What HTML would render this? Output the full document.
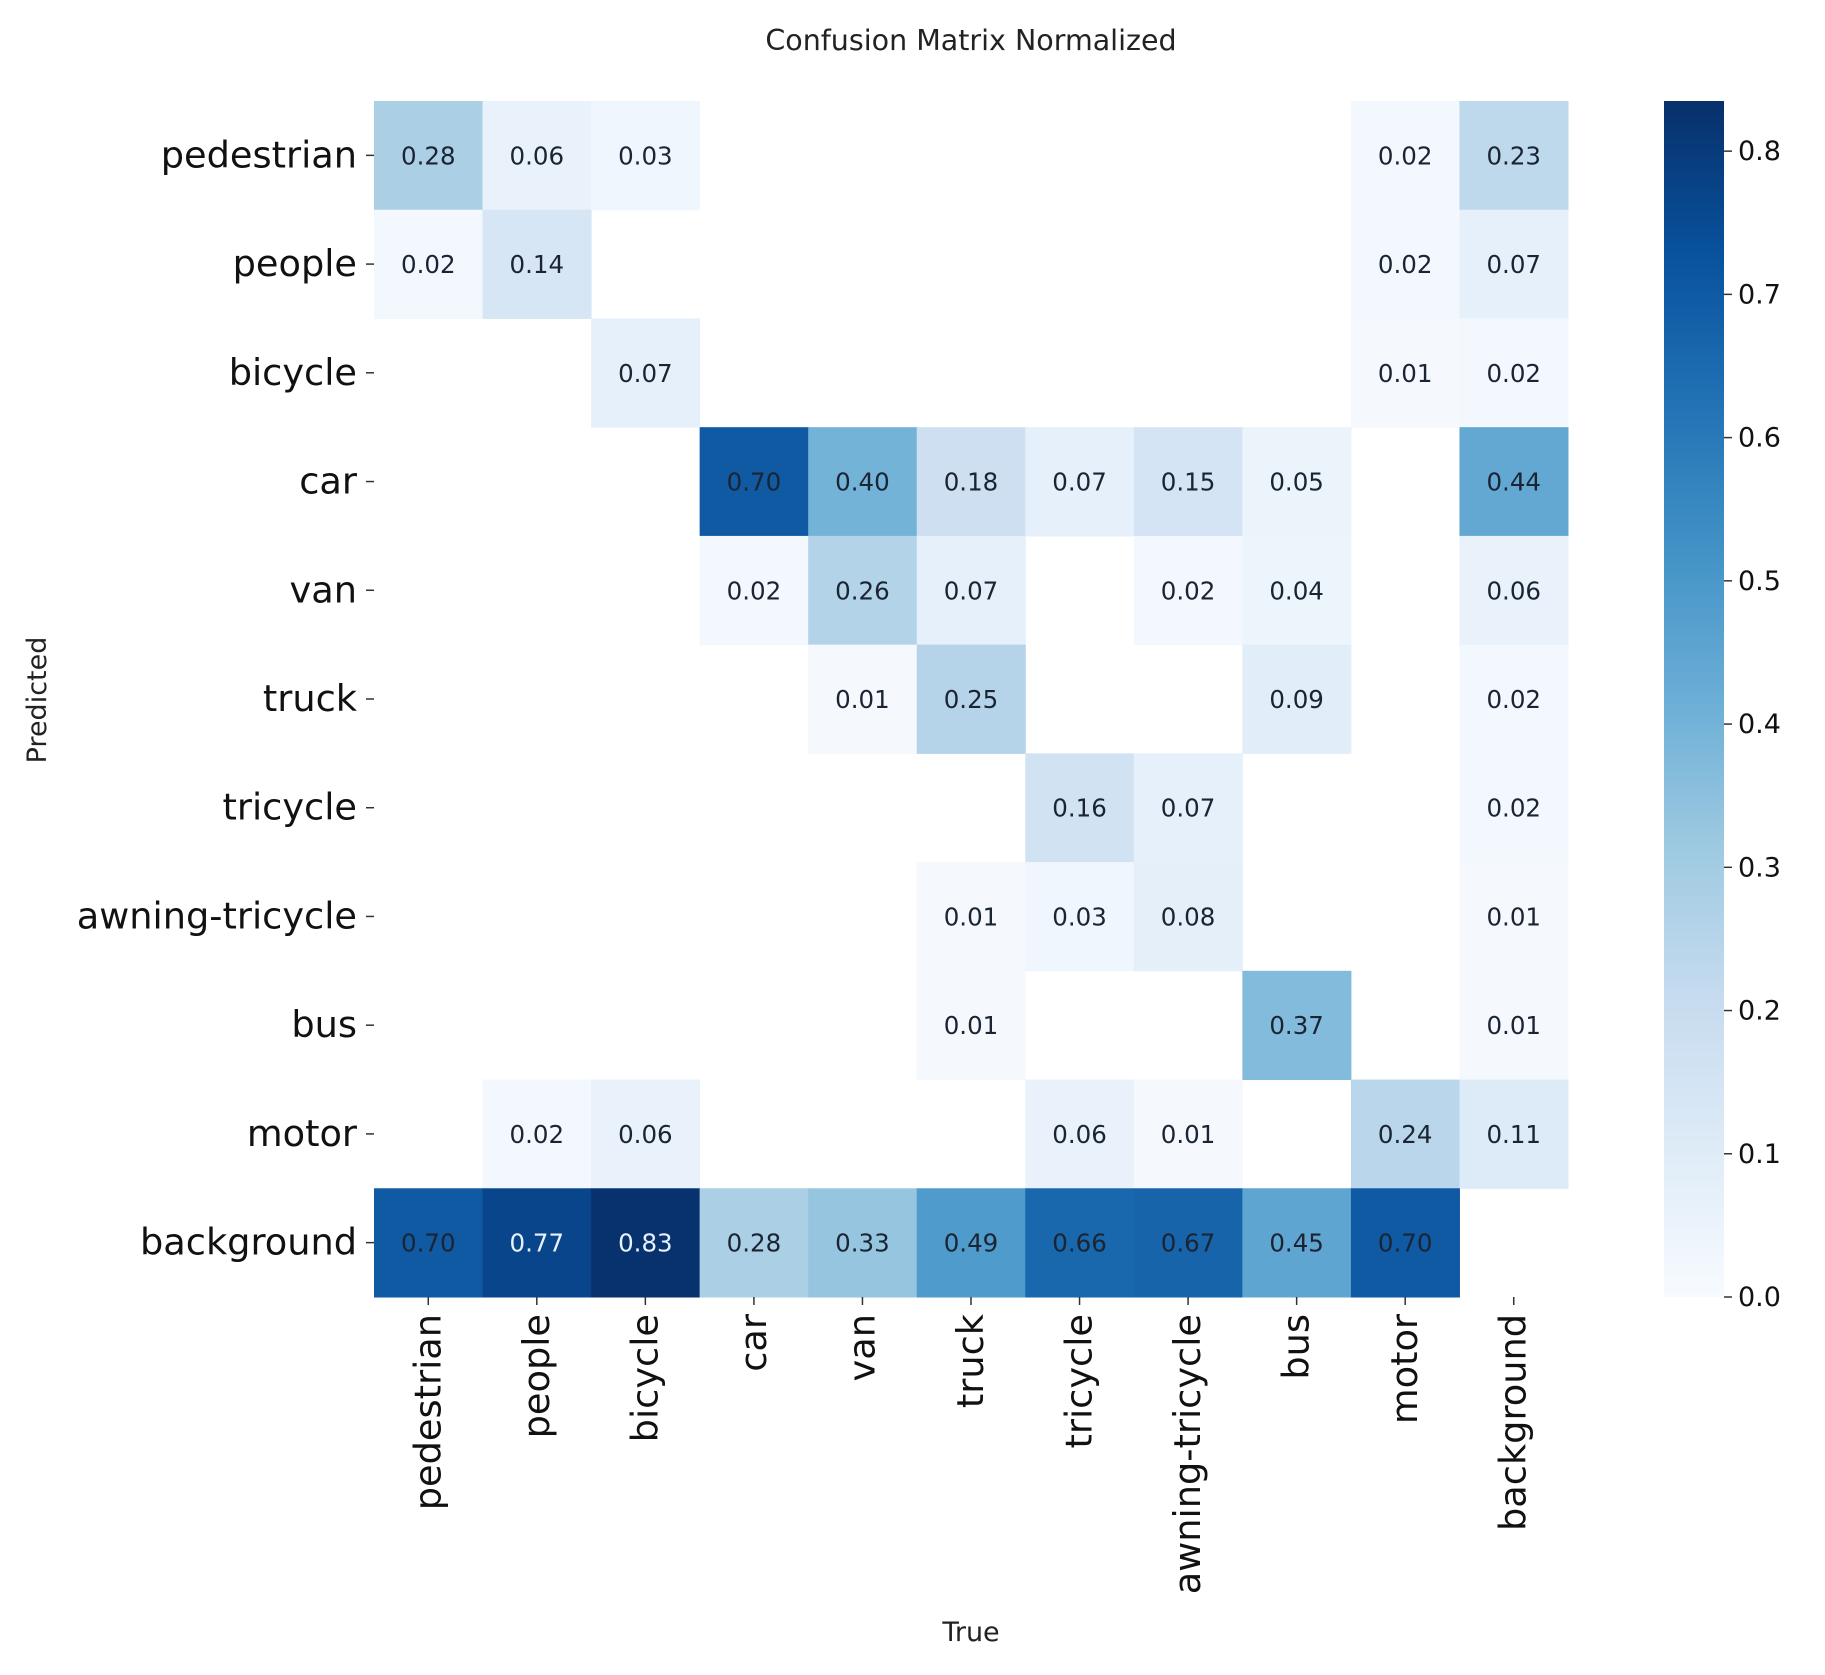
<!DOCTYPE html>
<html><head><meta charset="utf-8"><style>
html,body{margin:0;padding:0;background:#fff;}
svg{display:block;font-family:"DejaVu Sans","Liberation Sans",sans-serif;}
</style></head><body>
<svg id="chart" width="1825" height="1675" viewBox="0 0 1825 1675" xmlns="http://www.w3.org/2000/svg">
<text x="971" y="50" font-size="28.5" text-anchor="middle" fill="#222">Confusion Matrix Normalized</text>
<text transform="translate(46,700) rotate(-90)" font-size="27" text-anchor="middle" fill="#222">Predicted</text>
<text x="971" y="1641" font-size="27" text-anchor="middle" fill="#222">True</text>
<defs><linearGradient id="cbg" x1="0" y1="1" x2="0" y2="0"></linearGradient></defs>
<g id="cells"></g><g id="xticks"></g><g id="yticks"></g><g id="cbar"></g>
</svg>
<script>
const rowLabels = ["pedestrian","people","bicycle","car","van","truck","tricycle","awning-tricycle","bus","motor","background"];
const colLabels = ["pedestrian","people","bicycle","car","van","truck","tricycle","awning-tricycle","bus","motor","background"];
const rowPedestrian = [0.28,0.06,0.03,null,null,null,null,null,null,0.02,0.23];
const rowPeople     = [0.02,0.14,null,null,null,null,null,null,null,0.02,0.07];
const rowBicycle    = [null,null,0.07,null,null,null,null,null,null,0.01,0.02];
const rowCar        = [null,null,null,0.70,0.40,0.18,0.07,0.15,0.05,null,0.44];
const rowVan        = [null,null,null,0.02,0.26,0.07,null,0.02,0.04,null,0.06];
const rowTruck      = [null,null,null,null,0.01,0.25,null,null,0.09,null,0.02];
const rowTricycle   = [null,null,null,null,null,null,0.16,0.07,null,null,0.02];
const rowAwning     = [null,null,null,null,null,0.01,0.03,0.08,null,null,0.01];
const rowBus        = [null,null,null,null,null,0.01,null,null,0.37,null,0.01];
const rowMotor      = [null,0.02,0.06,null,null,null,0.06,0.01,null,0.24,0.11];
const rowBackground = [0.70,0.77,0.83,0.28,0.33,0.49,0.66,0.67,0.45,0.70,null];
const matrix = [rowPedestrian,rowPeople,rowBicycle,rowCar,rowVan,rowTruck,rowTricycle,rowAwning,rowBus,rowMotor,rowBackground];
const cbarTicks = [0.0,0.1,0.2,0.3,0.4,0.5,0.6,0.7,0.8];
const vmin = 0, vmax = 0.835;

const NS="http://www.w3.org/2000/svg";
const gx0=374, gx1=1568, gy0=101, gy1=1297;
const cw=(gx1-gx0)/colLabels.length, ch=(gy1-gy0)/rowLabels.length;
const xPos=i=>gx0+cw*i, yPos=j=>gy0+ch*j;
const cbX=1664, cbW=60, cbTop=101, cbBot=1297;
const cbY=v=>cbBot-(v-vmin)/(vmax-vmin)*(cbBot-cbTop);
const stops=["#f7fbff","#deebf7","#c6dbef","#9ecae1","#6baed6","#4292c6","#2171b5","#08519c","#08306b"];
function hex(h){return [1,3,5].map(i=>parseInt(h.substr(i,2),16));}
function blues(t){t=Math.max(0,Math.min(1,t));const p=t*8,i=Math.min(7,Math.floor(p)),f=p-i;const a=hex(stops[i]),b=hex(stops[i+1]);return "rgb("+a.map((v,k)=>Math.round(v+(b[k]-v)*f)).join(",")+")";}
function mk(tag,attrs,parent){const e=document.createElementNS(NS,tag);for(const k in attrs)e.setAttribute(k,attrs[k]);parent.appendChild(e);return e;}

const cells=document.getElementById('cells');
matrix.forEach((row,r)=>row.forEach((v,c)=>{
  if(v===null)return;
  const rect=mk('rect',{x:xPos(c),y:yPos(r),width:cw+0.5,height:ch+0.5,fill:blues((v-vmin)/(vmax-vmin))},cells);
  
  
  const t=mk('text',{x:xPos(c)+cw/2,y:yPos(r)+ch/2+9,'font-size':24.5,'text-anchor':'middle',fill:v>=0.75?'#e8f2ff':'#1b2433'},cells);
  
  
  t.textContent=v.toFixed(2);
}));

const yt=document.getElementById('yticks');
rowLabels.forEach((l,r)=>{
  const y=yPos(r)+ch/2;
  mk('line',{x1:gx0-8,x2:gx0,y1:y,y2:y,stroke:'#333','stroke-width':1.5},yt);
  const t=mk('text',{x:gx0-17,y:y+12,'font-size':36.7,'text-anchor':'end',fill:'#111'},yt);
  
  
  t.textContent=l;
});
const xt=document.getElementById('xticks');
colLabels.forEach((l,c)=>{
  const x=xPos(c)+cw/2;
  mk('line',{x1:x,x2:x,y1:gy1,y2:gy1+8,stroke:'#333','stroke-width':1.5},xt);
  const t=mk('text',{transform:'translate('+(x+12)+','+(gy1+17)+') rotate(-90)','font-size':36.7,'text-anchor':'end',fill:'#111'},xt);
  
  
  t.textContent=l;
});

const grad=document.getElementById('cbg');
stops.forEach((s,i)=>{
  mk('stop',{offset:i/8,'stop-color':s},grad);
});
const cb=document.getElementById('cbar');
const bar=mk('rect',{x:cbX,y:cbTop,width:cbW,height:cbBot-cbTop,fill:'url(#cbg)'},cb);


cbarTicks.forEach(v=>{
  const y=cbY(v);
  mk('line',{x1:cbX+cbW,x2:cbX+cbW+8,y1:y,y2:y,stroke:'#333','stroke-width':1.5},cb);
  const t=mk('text',{x:cbX+cbW+14,y:y+9,'font-size':27,fill:'#111'},cb);
  
  
  t.textContent=v.toFixed(1);
});
</script>
</body></html>
